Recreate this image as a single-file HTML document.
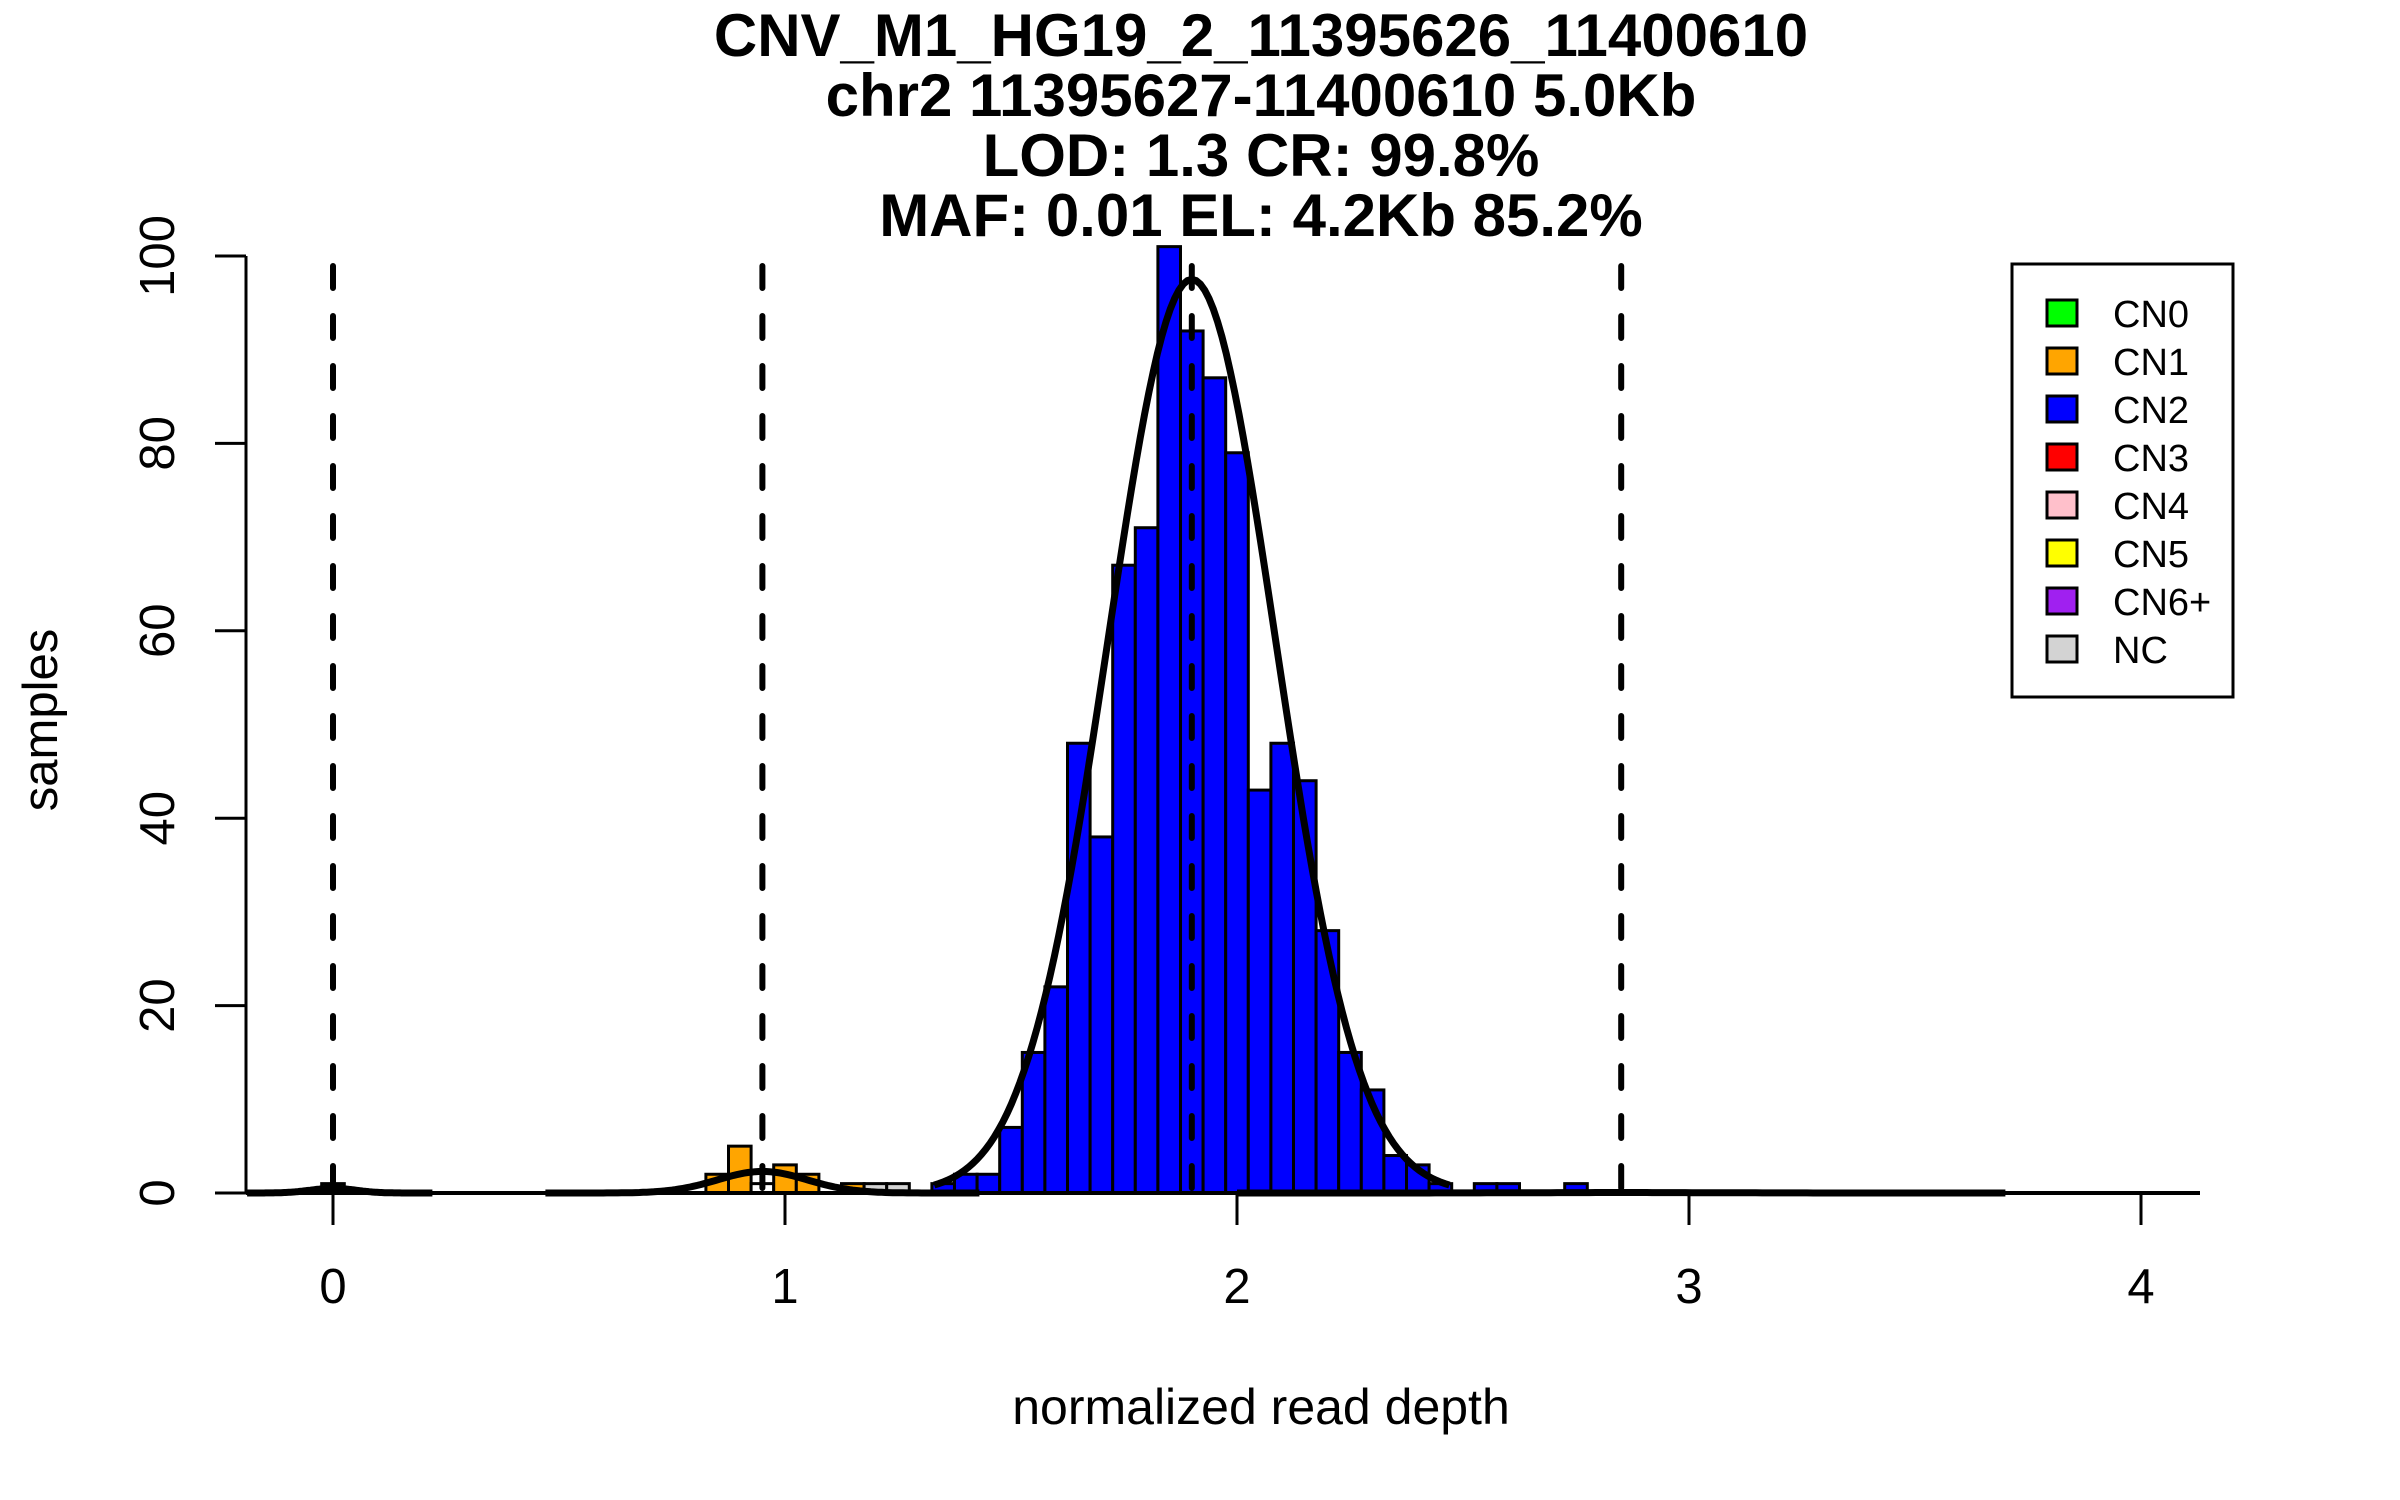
<!DOCTYPE html>
<html><head><meta charset="utf-8"><style>
html,body{margin:0;padding:0;background:#fff;}
svg{display:block;font-family:"Liberation Sans",sans-serif;}
</style></head><body>
<svg id="chart" width="2400" height="1500" viewBox="0 0 2400 1500" xmlns="http://www.w3.org/2000/svg">
<g font-weight="bold" font-size="60" text-anchor="middle" fill="#000">
<text x="1261" y="56">CNV_M1_HG19_2_11395626_11400610</text>
<text x="1261" y="116">chr2 11395627-11400610 5.0Kb</text>
<text x="1261" y="176">LOD: 1.3 CR: 99.8%</text>
<text x="1261" y="236">MAF: 0.01 EL: 4.2Kb 85.2%</text>
</g>
<g id="bars"></g>
<g id="curves"></g>
<g id="vlines"></g>
<g id="axes"></g>
<text x="1261" y="1424" font-size="50" text-anchor="middle">normalized read depth</text>
<text transform="translate(57,720) rotate(-90)" font-size="49" text-anchor="middle">samples</text>
<g id="legend">
<rect x="2012" y="264" width="221" height="433" fill="#fff" stroke="#000" stroke-width="3"/>
</g>
</svg>
<script>
// Data
const binCenters = [0.00, 0.85, 0.90, 0.95, 1.00, 1.05, 1.15, 1.20, 1.25, 1.35, 1.40, 1.45, 1.50, 1.55, 1.60, 1.65, 1.70, 1.75, 1.80, 1.85, 1.90, 1.95, 2.00, 2.05, 2.10, 2.15, 2.20, 2.25, 2.30, 2.35, 2.40, 2.45, 2.55, 2.60, 2.75];
const binCounts  = [1, 2, 5, 1, 3, 2, 1, 1, 1, 1, 2, 2, 7, 15, 22, 48, 38, 67, 71, 101, 92, 87, 79, 43, 48, 44, 28, 15, 11, 4, 3, 1, 1, 1, 1];
const binClasses = ["CN0","CN1","CN1","W","CN1","CN1","CN1","NC","NC","CN2","CN2","CN2","CN2","CN2","CN2","CN2","CN2","CN2","CN2","CN2","CN2","CN2","CN2","CN2","CN2","CN2","CN2","CN2","CN2","CN2","CN2","CN2","CN2","CN2","CN2"];
const compMeans = [0.0, 0.95, 1.9, 2.85];
const compPeaks = [0.5, 2.3, 97.5, 0.05];
const compSds   = [0.05, 0.1, 0.185, 0.2];
const compRanges = [[-0.19, 0.22], [0.47, 1.43], [1.33, 2.47], [2.0, 3.7]];
const xTicks = [0, 1, 2, 3, 4];
const yTicks = [0, 20, 40, 60, 80, 100];
const legendLabels = ["CN0","CN1","CN2","CN3","CN4","CN5","CN6+","NC"];
const legendColors = ["#00ff00","#ffa500","#0000ff","#ff0000","#ffc0cb","#ffff00","#a020f0","#d3d3d3"];

const NS = "http://www.w3.org/2000/svg";
const X0 = 333, XU = 452, Y0 = 1193, YU = 9.37, BW = 0.05;
const sx = v => X0 + v * XU;
const sy = v => Y0 - v * YU;
const colorOf = c => ({CN0:"#0a4a0a",CN1:"#ffa500",CN2:"#0000ff",NC:"#d3d3d3",W:"#ffffff"})[c];
function mk(tag, attrs, parent){const e=document.createElementNS(NS,tag);for(const k in attrs)e.setAttribute(k,attrs[k]);parent.appendChild(e);return e;}

const gb = document.getElementById("bars");
binCenters.forEach((c,i)=>{
  const r = mk("rect",{x:sx(c-BW/2),y:sy(binCounts[i]),width:BW*XU,height:binCounts[i]*YU,fill:colorOf(binClasses[i]),stroke:"#000","stroke-width":3},gb);
  
  
});

const gc = document.getElementById("curves");
compMeans.forEach((m,i)=>{
  let d="";
  const [a,b]=compRanges[i];
  for(let k=0;k<=120;k++){const x=a+(b-a)*k/120;const y=compPeaks[i]*Math.exp(-0.5*((x-m)/compSds[i])**2);d+=(k?"L":"M")+sx(x).toFixed(1)+","+sy(y).toFixed(1);}
  const p = mk("path",{d:d,fill:"none",stroke:"#000","stroke-width":7},gc);
  
  
});

const gv = document.getElementById("vlines");
compMeans.forEach(m=>{
  const l = mk("line",{x1:sx(m),x2:sx(m),y1:266,y2:Y0,stroke:"#000","stroke-width":6,"stroke-dasharray":"22 28","stroke-linecap":"round"},gv);
  
  
});

const ga = document.getElementById("axes");
const xl = mk("line",{x1:246,x2:2200,y1:Y0,y2:Y0,stroke:"#000","stroke-width":4},ga);


const yl = mk("line",{x1:246,x2:246,y1:sy(100),y2:Y0,stroke:"#000","stroke-width":3},ga);


xTicks.forEach(t=>{
  const tk = mk("line",{x1:sx(t),x2:sx(t),y1:Y0,y2:1225,stroke:"#000","stroke-width":3},ga);
  
  
  const tx = mk("text",{x:sx(t),y:1303,"font-size":49,"text-anchor":"middle"},ga);
  tx.textContent = t;
  
  
});
yTicks.forEach(t=>{
  const tk = mk("line",{x1:215,x2:246,y1:sy(t),y2:sy(t),stroke:"#000","stroke-width":3},ga);
  
  
  const tx = mk("text",{transform:"translate(174,"+sy(t)+") rotate(-90)","font-size":49,"text-anchor":"middle"},ga);
  tx.textContent = t;
  
  
});

const gl = document.getElementById("legend");
legendLabels.forEach((lab,i)=>{
  const cy = 313 + i*48;
  const sq = mk("rect",{x:2047,y:cy-13,width:30,height:26,fill:legendColors[i],stroke:"#000","stroke-width":3},gl);
  
  
  const tx = mk("text",{x:2113,y:cy+14,"font-size":38},gl);
  tx.textContent = lab;
  
  
});
</script>
</body></html>
